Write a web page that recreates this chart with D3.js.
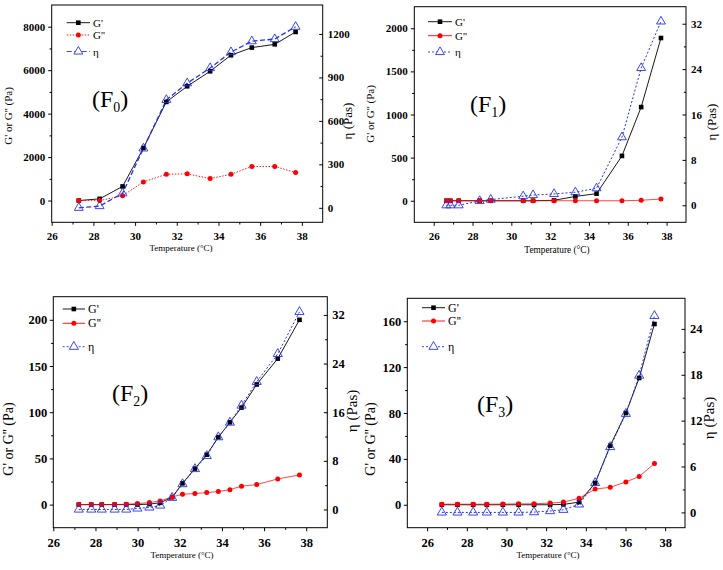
<!DOCTYPE html>
<html><head><meta charset="utf-8">
<script src="https://cdn.jsdelivr.net/npm/d3@7/dist/d3.min.js"></script>
<style>body{margin:0;background:#fff}svg{display:block}</style>
</head><body>
<svg id="c" width="723" height="570"></svg>
<script>
// ---------- DATA ----------
const xTicks = [26, 28, 30, 32, 34, 36, 38];
const xMinor = [25, 27, 29, 31, 33, 35, 37, 39];

// F0
const f0Temp = [27.3, 28.3, 29.4, 30.4, 31.5, 32.5, 33.6, 34.6, 35.6, 36.7, 37.7];
const f0G1   = [0, 80, 650, 2420, 4540, 5260, 5950, 6690, 7040, 7190, 7760];
const f0G2   = [0, 0, 220, 860, 1210, 1230, 1010, 1210, 1570, 1570, 1290];
const f0Eta  = [0, 12, 100, 410, 745, 860, 965, 1075, 1150, 1165, 1250];
const f0YTicks = [0, 2000, 4000, 6000, 8000];
const f0RTicks = [0, 300, 600, 900, 1200];

// F1
const f1Temp = [26.65, 26.86, 27.29, 28.37, 28.94, 30.61, 31.12, 32.2, 33.3, 34.39, 35.7, 36.69, 37.71];
const f1G1   = [0, 0, 0, 0, 0, 0, 0, 5, 50, 82, 520, 1086, 1887];
const f1G2   = [0, 0, 0, 0, 0, 0, 0, 0, 0, 0, 0, 5, 20];
const f1Eta  = [0, 0, 0, 0.77, 1.0, 1.6, 1.8, 2.0, 2.3, 3.0, 12.0, 24.2, 32.4];
const f1YTicks = [0, 500, 1000, 1500, 2000];
const f1RTicks = [0, 8, 16, 24, 32];

// F2
const f2Temp = [27.21, 27.8, 28.3, 28.91, 29.46, 29.99, 30.56, 31.07, 31.64, 32.13, 32.72, 33.28, 33.83, 34.38, 34.93, 35.65, 36.65, 37.68];
const f2G1   = [0, 0, 0, 0, 0, 0, 0.5, 2, 8, 23, 39, 54, 73, 89, 105, 130, 158, 200];
const f2G2   = [0, 0, 0, 0, 0.4, 1.1, 2.2, 4.0, 8.3, 11.2, 11.9, 13, 14.1, 16.2, 19.9, 21.7, 27.8, 32.1];
const f2Eta  = [0, 0, 0, 0, 0, 0.17, 0.33, 0.66, 1.93, 4.18, 6.66, 8.81, 11.9, 14.3, 17.1, 21.0, 25.6, 32.5];
const f2YTicks = [0, 50, 100, 150, 200];
const f2RTicks = [0, 8, 16, 24, 32];

// F3
const f3Temp = [26.74, 27.53, 28.32, 29.01, 29.82, 30.61, 31.39, 32.2, 32.87, 33.66, 34.47, 35.23, 36.02, 36.69, 37.46];
const f3G1   = [0, 0, 0, 0, 0, 0, 0, 0, 0.3, 2.3, 19, 51.5, 80, 110.5, 157.6];
const f3G2   = [0.5, 0.5, 0.5, 0.5, 0.6, 0.8, 0.8, 1.5, 2.3, 5.6, 13.7, 15.2, 19.9, 24.6, 36];
const f3Eta  = [0, 0, 0, 0, 0, 0, 0.04, 0.18, 0.35, 1.05, 3.86, 8.56, 12.9, 17.9, 25.7];
const f3YTicks = [0, 40, 80, 120, 160];
const f3RTicks = [0, 6, 12, 18, 24];

const legendNames = ["G'", "G''", "\u03B7"];

// ---------- DRAW ----------
const svg = d3.select("#c");
const FONT = "'Liberation Serif','Times New Roman',serif";
const RED = "#ff0000", BLUE = "#2233ee";

function mid(a){ const m=[]; for(let i=0;i<a.length-1;i++) m.push((a[i]+a[i+1])/2); return m; }

function panel(c){
  const [x0,y0,x1,y1] = c.box;
  const x = d3.scaleLinear().domain(c.xDom).range([x0,x1]);
  const yL = d3.scaleLinear().domain(c.yLDom).range([y1,y0]);
  const yR = d3.scaleLinear().domain(c.yRDom).range([y1,y0]);
  const g = svg.append("g");

  // frame
  g.append("rect").attr("x",x0).attr("y",y0).attr("width",x1-x0).attr("height",y1-y0)
    .attr("fill","none").attr("stroke","#000").attr("stroke-width",1);

  const styleAxis = (sel, fs) => {
    sel.select(".domain").remove();
    sel.selectAll("line").attr("stroke","#000");
    sel.selectAll("text").attr("font-family",FONT).attr("font-weight","bold").attr("font-size",fs).attr("fill","#000");
  };
  // bottom
  g.append("g").attr("transform",`translate(0,${y1})`)
    .call(d3.axisBottom(x).tickValues(xTicks).tickSize(3.5).tickPadding(c.bPad).tickFormat(d3.format("d")))
    .call(s=>styleAxis(s,c.fs));
  g.append("g").attr("transform",`translate(0,${y1})`)
    .call(d3.axisBottom(x).tickValues(xMinor.filter(v=>v>c.xDom[0]&&v<c.xDom[1])).tickSize(2.2).tickFormat(""))
    .call(s=>styleAxis(s,c.fs));
  // left
  g.append("g").attr("transform",`translate(${x0},0)`)
    .call(d3.axisLeft(yL).tickValues(c.yTicks).tickSize(3.5).tickPadding(c.lPad).tickFormat(d3.format("d")))
    .call(s=>styleAxis(s,c.fs));
  g.append("g").attr("transform",`translate(${x0},0)`)
    .call(d3.axisLeft(yL).tickValues(mid(c.yTicks)).tickSize(2.2).tickFormat(""))
    .call(s=>styleAxis(s,c.fs));
  // right (inward ticks)
  g.append("g").attr("transform",`translate(${x1},0)`)
    .call(d3.axisRight(yR).tickValues(c.rTicks).tickSize(-3.5).tickPadding(c.rPad).tickFormat(d3.format("d")))
    .call(s=>styleAxis(s,c.fs));
  g.append("g").attr("transform",`translate(${x1},0)`)
    .call(d3.axisRight(yR).tickValues(mid(c.rTicks)).tickSize(-2.2).tickFormat(""))
    .call(s=>styleAxis(s,c.fs));

  // series
  const pts = (arr, ys) => c.temp.map((t,i)=>[x(t), ys(arr[i])]);
  const line = d3.line();
  const s1 = pts(c.g1, yL), s2 = pts(c.g2, yL), s3 = pts(c.eta, yR);

  g.append("path").attr("d",line(s1)).attr("fill","none").attr("stroke","#000").attr("stroke-width",0.9);
  g.append("path").attr("d",line(s3)).attr("fill","none").attr("stroke",BLUE).attr("stroke-width",c.etaW)
    .attr("stroke-dasharray",c.etaDash);
  g.append("path").attr("d",line(s2)).attr("fill","none").attr("stroke",RED).attr("stroke-width",0.9)
    .attr("stroke-dasharray",c.g2Dash).attr("stroke-opacity",c.g2Dash==="none"?0.8:1);

  const ms = c.ms;
  g.selectAll(null).data(s1).join("rect")
    .attr("x",d=>d[0]-ms/2).attr("y",d=>d[1]-ms/2).attr("width",ms).attr("height",ms).attr("fill","#000");
  g.selectAll(null).data(s2).join("circle")
    .attr("cx",d=>d[0]).attr("cy",d=>d[1]).attr("r",ms/2+0.2).attr("fill",RED);
  const tri = d3.symbol().type(d3.symbolTriangle).size(c.ts);
  g.selectAll(null).data(s3).join("path")
    .attr("transform",d=>`translate(${d[0]},${d[1]})`).attr("d",tri())
    .attr("fill","none").attr("stroke",BLUE).attr("stroke-width",0.9);

  // legend
  const L = c.leg;
  const rows = [
    {stroke:"#000", dash:"none", mark:"sq"},
    {stroke:RED, dash:c.g2Dash, mark:"ci"},
    {stroke:BLUE, dash:c.etaDash, mark:"tr"}
  ];
  rows.forEach((r,i)=>{
    const yy = L.ys[i];
    g.append("line").attr("x1",L.x0).attr("x2",L.x1).attr("y1",yy).attr("y2",yy)
      .attr("stroke",r.stroke).attr("stroke-width",0.9).attr("stroke-dasharray",r.dash);
    const cx = (L.x0+L.x1)/2;
    if(r.mark==="sq") g.append("rect").attr("x",cx-ms/2).attr("y",yy-ms/2).attr("width",ms).attr("height",ms).attr("fill","#000");
    if(r.mark==="ci") g.append("circle").attr("cx",cx).attr("cy",yy).attr("r",ms/2+0.2).attr("fill",RED);
    if(r.mark==="tr") g.append("path").attr("transform",`translate(${cx},${yy})`).attr("d",tri())
        .attr("fill","#fff").attr("stroke",BLUE).attr("stroke-width",0.9);
    g.append("text").attr("x",L.tx).attr("y",yy+4).text(legendNames[i])
      .attr("font-family",FONT).attr("font-size",L.fs).attr("fill","#000");
  });

  // axis titles
  g.append("text").attr("transform",`translate(${c.lt[0]},${c.lt[1]}) rotate(-90)`)
    .attr("text-anchor","middle").attr("font-family",FONT).attr("font-size",c.ltfs).text("G' or G'' (Pa)");
  g.append("text").attr("transform",`translate(${c.rt[0]},${c.rt[1]}) rotate(-90)`)
    .attr("text-anchor","middle").attr("font-family",FONT).attr("font-size",c.rtfs).text("\u03B7 (Pas)");
  g.append("text").attr("x",c.bt[0]).attr("y",c.bt[1])
    .attr("text-anchor","middle").attr("font-family",FONT).attr("font-size",c.btfs).text("Temperature (\u00B0C)");

  // panel label
  const pl = g.append("text").attr("x",c.pl[0]).attr("y",c.pl[1]).attr("font-family",FONT).attr("font-size",c.plfs);
  pl.append("tspan").text("(F");
  pl.append("tspan").attr("font-size",c.plfs*0.58).attr("dy",4.5).text(c.sub);
  pl.append("tspan").attr("dy",-4.5).text(")");
}

panel({box:[51.7,5,322.7,222.3], xDom:[26,39], yLDom:[-1000,9000], yRDom:[-100,1400],
  temp:f0Temp, g1:f0G1, g2:f0G2, eta:f0Eta, yTicks:f0YTicks, rTicks:f0RTicks,
  fs:11, bPad:6.4, lPad:3, rPad:5, ms:4.6, ts:34,
  g2Dash:"1.5,1.5", etaDash:"5,2.5", etaW:1.3,
  leg:{x0:66.7,x1:90,tx:93,ys:[22.7,35,51.5],fs:11},
  lt:[11.5,116], rt:[352,121], bt:[181,251], ltfs:11, rtfs:13, btfs:9,
  pl:[92,107], plfs:24, sub:"0"});

panel({box:[414.3,6.7,686,222.3], xDom:[25,39], yLDom:[-250,2250], yRDom:[-3,35],
  temp:f1Temp, g1:f1G1, g2:f1G2, eta:f1Eta, yTicks:f1YTicks, rTicks:f1RTicks,
  fs:11, bPad:6.4, lPad:3, rPad:5, ms:4.6, ts:34,
  g2Dash:"none", etaDash:"2,2", etaW:1,
  leg:{x0:428,x1:452,tx:455,ys:[21.7,35.7,52],fs:11},
  lt:[373.5,114], rt:[716,122], bt:[557,253], ltfs:11, rtfs:13, btfs:9.3,
  pl:[470,112], plfs:24, sub:"1"});

panel({box:[53.3,296.7,327.3,527.7], xDom:[26,39], yLDom:[-25,225], yRDom:[-3,35],
  temp:f2Temp, g1:f2G1, g2:f2G2, eta:f2Eta, yTicks:f2YTicks, rTicks:f2RTicks,
  fs:12.5, bPad:6.6, lPad:2.5, rPad:5, ms:4.6, ts:36,
  g2Dash:"none", etaDash:"2,2", etaW:1,
  leg:{x0:62.7,x1:85,tx:88,ys:[309,323.3,346.7],fs:12},
  lt:[13,439], rt:[357,411], bt:[182,558], ltfs:14, rtfs:15, btfs:9,
  pl:[112,401], plfs:24, sub:"2"});

panel({box:[407.3,298.3,685,527.7], xDom:[25,39], yLDom:[-20,180], yRDom:[-2,28],
  temp:f3Temp, g1:f3G1, g2:f3G2, eta:f3Eta, yTicks:f3YTicks, rTicks:f3RTicks,
  fs:12.5, bPad:6.6, lPad:2.5, rPad:5, ms:4.6, ts:36,
  g2Dash:"none", etaDash:"2,2", etaW:1,
  leg:{x0:422,x1:445,tx:448,ys:[307.7,321,346.7],fs:12},
  lt:[375,439], rt:[714,418], bt:[548,558], ltfs:14, rtfs:15, btfs:9,
  pl:[477,412], plfs:24, sub:"3"});
</script>
</body></html>
